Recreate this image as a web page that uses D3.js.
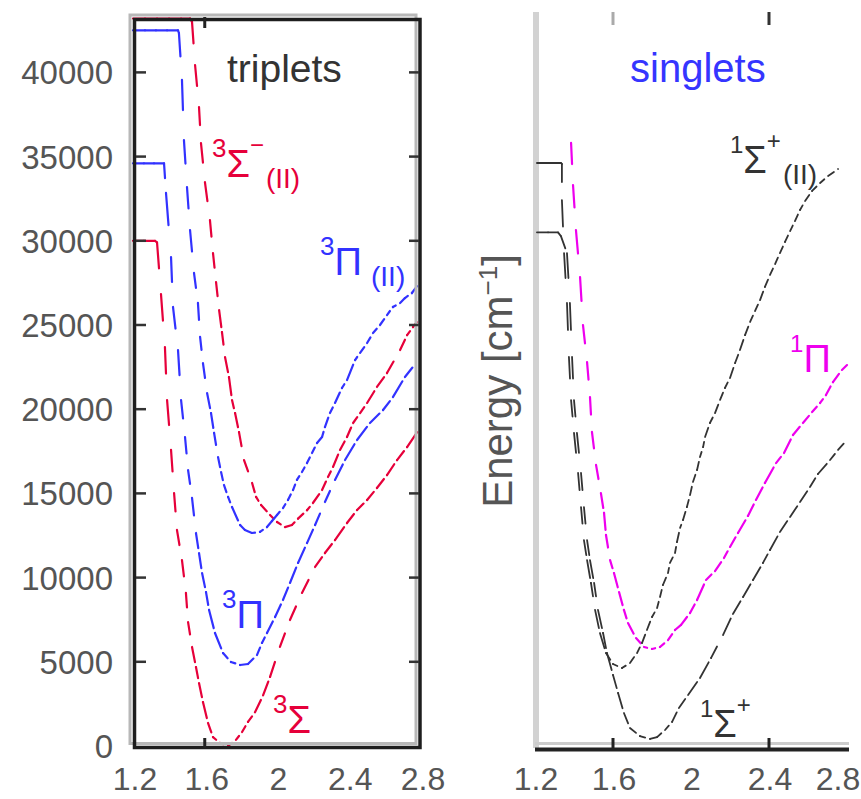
<!DOCTYPE html>
<html><head><meta charset="utf-8">
<script src="https://cdn.jsdelivr.net/npm/d3@7"></script>
<style>html,body{margin:0;padding:0;background:#fff;} svg{display:block;}</style>
</head><body>
<script>
// ---------------- data (r in Å, energy in cm^-1) ----------------
const energyTicks = [0, 5000, 10000, 15000, 20000, 25000, 30000, 35000, 40000];
const energyTickLabels = ["0", "5000", "10000", "15000", "20000", "25000", "30000", "35000", "40000"];
const distanceTicks = [1.2, 1.6, 2.0, 2.4, 2.8];
const distanceTickLabels = ["1.2", "1.6", "2", "2.4", "2.8"];
const leftTickMarks = [1.6];
const rightTickMarks = [1.6, 2.4];

const panelTitles = ["triplets", "singlets"];
const yAxisLabel = ["Energy [cm", "\u22121", "]"];

// triplets
const triplet3SigmaMinus = [[1.200,30000],[1.261,30000],[1.323,30000],[1.334,29900],[1.356,26830],[1.378,23690],[1.390,20540],[1.412,17580],[1.429,15020],[1.445,12830],[1.473,11040],[1.495,9090],[1.507,7360],[1.529,5880],[1.551,4690],[1.568,3740],[1.590,2610],[1.618,1370],[1.646,530],[1.685,180],[1.730,0],[1.774,360],[1.808,830],[1.841,1430],[1.880,2000],[1.925,3000],[1.964,4100],[2.019,5880],[2.075,7480],[2.142,9090],[2.215,10630],[2.270,11460],[2.326,12230],[2.393,13240],[2.449,14010],[2.505,14610],[2.560,15320],[2.616,16090],[2.672,16980],[2.728,17750],[2.800,18880]];
const triplet3SigmaMinusII = [[1.200,43200],[1.267,43200],[1.334,43200],[1.401,43200],[1.468,43200],[1.518,43200],[1.529,43000],[1.546,40440],[1.568,37940],[1.579,35800],[1.601,33490],[1.629,31230],[1.646,29270],[1.663,27550],[1.680,25890],[1.696,24580],[1.713,23100],[1.735,21910],[1.752,20540],[1.769,19770],[1.791,18640],[1.819,16980],[1.864,15620],[1.886,14790],[1.914,14310],[1.964,13720],[2.003,13300],[2.047,13000],[2.086,13120],[2.120,13500],[2.170,14000],[2.203,14430],[2.254,15200],[2.287,15970],[2.315,16570],[2.354,17580],[2.393,18350],[2.427,19180],[2.466,19770],[2.505,20370],[2.560,21320],[2.616,22150],[2.689,23510],[2.728,24400],[2.761,24880],[2.800,25410]];
const triplet3PiII = [[1.200,42500],[1.267,42500],[1.328,42500],[1.390,42500],[1.451,42500],[1.456,42340],[1.473,39550],[1.484,35980],[1.501,33190],[1.518,30640],[1.540,28090],[1.562,26310],[1.574,24290],[1.590,22740],[1.613,20960],[1.635,19770],[1.652,18590],[1.674,17160],[1.691,16270],[1.707,15500],[1.730,14790],[1.752,14190],[1.797,13120],[1.824,12830],[1.863,12650],[1.908,12710],[1.947,13000],[1.975,13360],[2.003,13720],[2.036,14130],[2.064,14610],[2.092,15200],[2.114,15800],[2.142,16270],[2.170,16800],[2.198,17400],[2.226,17990],[2.254,18350],[2.270,18940],[2.298,19770],[2.326,20370],[2.365,21260],[2.393,21730],[2.438,22920],[2.466,23340],[2.505,23930],[2.538,24520],[2.577,25000],[2.616,25590],[2.649,26070],[2.689,26300],[2.716,26600],[2.755,26900],[2.800,27550]];
const triplet3Pi = [[1.200,34600],[1.261,34600],[1.317,34600],[1.373,34600],[1.384,32840],[1.412,29030],[1.423,26070],[1.451,23510],[1.468,20540],[1.490,18350],[1.507,16390],[1.529,14730],[1.551,12650],[1.568,11460],[1.585,10270],[1.607,9140],[1.624,8080],[1.657,6710],[1.702,5520],[1.746,4990],[1.797,4810],[1.841,4870],[1.891,5400],[1.919,6120],[1.947,6710],[1.992,7660],[2.036,8670],[2.075,9680],[2.120,10870],[2.170,12050],[2.215,13120],[2.270,14490],[2.326,15800],[2.382,16980],[2.449,18170],[2.521,19180],[2.594,19950],[2.649,20720],[2.716,21910],[2.800,23040]];

// singlets
const singlet1SigmaPlusII = [[1.210,34620],[1.272,34620],[1.333,34620],[1.338,34560],[1.338,32420],[1.349,29270],[1.364,26310],[1.374,23100],[1.385,20540],[1.400,18590],[1.421,16210],[1.436,14190],[1.451,12230],[1.467,11040],[1.487,9680],[1.508,8080],[1.533,6710],[1.564,5520],[1.600,4870],[1.646,4630],[1.687,4930],[1.723,5520],[1.749,6120],[1.774,6890],[1.800,7660],[1.826,8190],[1.841,8850],[1.856,9560],[1.882,10270],[1.892,10870],[1.918,11460],[1.928,12110],[1.944,12950],[1.959,13420],[1.979,14190],[1.995,14900],[2.010,15680],[2.031,16390],[2.046,17160],[2.062,17750],[2.072,18350],[2.097,19180],[2.123,19770],[2.149,20550],[2.174,21260],[2.200,21850],[2.226,22740],[2.251,23510],[2.277,24400],[2.303,25180],[2.328,25830],[2.354,26480],[2.379,27260],[2.405,27970],[2.431,28620],[2.456,29270],[2.482,29930],[2.508,30580],[2.533,31170],[2.559,31830],[2.585,32360],[2.621,32960],[2.662,33430],[2.703,33850],[2.754,34260]];
const singlet1SigmaPlus = [[1.210,30500],[1.267,30500],[1.318,30500],[1.333,30280],[1.364,29270],[1.379,26310],[1.390,23100],[1.400,20540],[1.415,18590],[1.436,16210],[1.451,14190],[1.467,12230],[1.482,11040],[1.503,9680],[1.523,8080],[1.549,6710],[1.569,5520],[1.600,4220],[1.626,3150],[1.656,1960],[1.687,1070],[1.738,590],[1.790,420],[1.826,530],[1.867,950],[1.903,1430],[1.938,2260],[1.985,3030],[2.046,4040],[2.103,5230],[2.164,6590],[2.215,7840],[2.267,8850],[2.318,9860],[2.369,10870],[2.405,11640],[2.456,12710],[2.508,13600],[2.559,14490],[2.610,15380],[2.651,16150],[2.713,16980],[2.754,17580],[2.800,18170]];
const singlet1Pi = [[1.385,35810],[1.395,33310],[1.410,30640],[1.431,27850],[1.446,25000],[1.467,22800],[1.482,20720],[1.492,18650],[1.513,16690],[1.538,15020],[1.554,13840],[1.564,12530],[1.585,11040],[1.605,10270],[1.631,9140],[1.656,8080],[1.677,7300],[1.718,6410],[1.759,5880],[1.800,5760],[1.841,5880],[1.882,6290],[1.918,6890],[1.949,7190],[1.995,7900],[2.031,8670],[2.077,9860],[2.123,10390],[2.169,11160],[2.200,11820],[2.241,12650],[2.292,13660],[2.333,14610],[2.379,15620],[2.436,16800],[2.477,17400],[2.523,18470],[2.574,19180],[2.621,19830],[2.662,20370],[2.692,20840],[2.728,21610],[2.774,22330],[2.800,22620]];

// state labels: [superscript, main glyph, sign, suffix]
const labelTexts = {
  t3SigmaII: ["3", "\u03A3", "\u2212", "(II)"],
  t3PiII:    ["3", "\u03A0", "", "(II)"],
  t3Pi:      ["3", "\u03A0", "", ""],
  t3Sigma:   ["3", "\u03A3", "", ""],
  s1SigmaII: ["1", "\u03A3", "+", "(II)"],
  s1Pi:      ["1", "\u03A0", "", ""],
  s1Sigma:   ["1", "\u03A3", "+", ""]
};

// ---------------- layout ----------------
const W = 861, H = 799;
const FONT = "'Liberation Sans', Arial, sans-serif";
const C = { red: "#e6003a", blue: "#3232ff", magenta: "#ee00ee", black: "#333333", title2: "#3535ff" };

const svg = d3.select("body").append("svg").attr("width", W).attr("height", H)
  .style("background", "#fff");

const y = d3.scaleLinear().domain([0, 43200]).range([746, 18.5]);
const xL = d3.scaleLinear().domain([1.2, 2.8]).range([133, 420]);
const xR = d3.scaleLinear().domain([1.2, 2.8]).range([535, 847]);

// curve drawing: each data segment restarts the dash pattern (as in the original)
function drawCurve(data, x, color, width) {
  const g = svg.append("g");
  const line = d3.line().x(d => x(d[0])).y(d => y(d[1]));
  g.selectAll("path").data(d3.pairs(data)).join("path")
    .attr("d", p => line(p))
    .attr("fill", "none")
    .attr("stroke", color)
    .attr("stroke-width", width)
    .attr("stroke-linecap", "round")
    .attr("stroke-dasharray", p => {
      const dx = x(p[1][0]) - x(p[0][0]), dy = y(p[1][1]) - y(p[0][1]);
      const L = Math.hypot(dx, dy);
      if (Math.abs(dy) < 0.5 || L < 8) return null;
      if (L > 24) return `${(0.5 * L).toFixed(1)},${L.toFixed(1)}`;
      return `${(L - 5).toFixed(1)},5`;
    });
}

// ---------- left panel (triplets) ----------
drawCurve(triplet3SigmaMinusII, xL, C.red, 2.2);
drawCurve(triplet3SigmaMinus, xL, C.red, 2.2);
drawCurve(triplet3PiII, xL, C.blue, 2.2);
drawCurve(triplet3Pi, xL, C.blue, 2.2);

// frame with grey shadow
svg.append("rect").attr("x", 130).attr("y", 15).attr("width", 286).attr("height", 728.5)
  .attr("fill", "none").attr("stroke", "#b8b8b8").attr("stroke-width", 3);
svg.append("rect").attr("x", xL(1.2) + 1.5).attr("y", 19.5).attr("width", xL(2.8) - xL(1.2) - 1.5).attr("height", 728)
  .attr("fill", "none").attr("stroke", "#1e1e1e").attr("stroke-width", 3.5);

// y ticks (inner, both sides)
svg.append("g").selectAll("line").data(energyTicks.slice(1)).join("line")
  .attr("x1", 136).attr("x2", 146).attr("y1", d => y(d)).attr("y2", d => y(d))
  .attr("stroke", "#333").attr("stroke-width", 2.5);
svg.append("g").selectAll("line").data(energyTicks.slice(1)).join("line")
  .attr("x1", 409).attr("x2", 419).attr("y1", d => y(d)).attr("y2", d => y(d))
  .attr("stroke", "#333").attr("stroke-width", 2.5);
// x ticks
svg.append("g").selectAll("line").data(leftTickMarks).join("line")
  .attr("x1", d => xL(d)).attr("x2", d => xL(d)).attr("y1", 738).attr("y2", 748)
  .attr("stroke", "#222").attr("stroke-width", 3);
svg.append("g").selectAll("line").data(leftTickMarks).join("line")
  .attr("x1", d => xL(d)).attr("x2", d => xL(d)).attr("y1", 17).attr("y2", 28)
  .attr("stroke", "#222").attr("stroke-width", 3);

// y tick labels
svg.append("g").selectAll("text").data(energyTicks).join("text")
  .attr("x", 113).attr("y", d => y(d) + 12)
  .attr("text-anchor", "end").attr("font-family", FONT).attr("font-size", 33)
  .attr("fill", "#555").text((d, i) => energyTickLabels[i]);

// x tick labels
function xLabels(x, dx, lastDx) {
  svg.append("g").selectAll("text").data(distanceTicks).join("text")
    .attr("x", (d, i) => x(d) + (i === distanceTicks.length - 1 ? lastDx : dx)).attr("y", 790)
    .attr("text-anchor", "middle").attr("font-family", FONT).attr("font-size", 32)
    .attr("fill", "#555").text((d, i) => distanceTickLabels[i]);
}
xLabels(xL, 2, 3);
xLabels(xR, 1, -9);

// ---------- right panel (singlets) ----------
svg.append("line").attr("x1", 536).attr("x2", 536).attr("y1", 12).attr("y2", 748)
  .attr("stroke", "#d2d2d2").attr("stroke-width", 6);
drawCurve(singlet1Pi, xR, C.magenta, 2.2);
drawCurve(singlet1SigmaPlusII, xR, C.black, 1.8);
drawCurve(singlet1SigmaPlus, xR, C.black, 1.8);
svg.append("line").attr("x1", 535).attr("x2", 849).attr("y1", 743.5).attr("y2", 743.5)
  .attr("stroke", "#cccccc").attr("stroke-width", 3);
svg.append("line").attr("x1", 535).attr("x2", 849).attr("y1", 749.5).attr("y2", 749.5)
  .attr("stroke", "#222").attr("stroke-width", 4);
svg.append("g").selectAll("line").data(rightTickMarks).join("line")
  .attr("x1", d => xR(d)).attr("x2", d => xR(d)).attr("y1", 738).attr("y2", 749)
  .attr("stroke", "#222").attr("stroke-width", 3);
svg.append("g").selectAll("line").data(rightTickMarks).join("line")
  .attr("x1", d => xR(d)).attr("x2", d => xR(d)).attr("y1", 12).attr("y2", 25)
  .attr("stroke", (d, i) => i === 0 ? "#aaa" : "#333").attr("stroke-width", 3);

// y axis label (rotated)
const yl = svg.append("text").attr("transform", "translate(512,381) rotate(-90)")
  .attr("text-anchor", "middle").attr("font-family", FONT).attr("font-size", 42).attr("fill", "#555");
yl.append("tspan").text(yAxisLabel[0]);
yl.append("tspan").attr("dy", -15).attr("font-size", 26).text(yAxisLabel[1]);
yl.append("tspan").attr("dy", 15).text(yAxisLabel[2]);

// titles
svg.append("text").attr("x", 227).attr("y", 82).attr("font-family", FONT).attr("font-size", 39)
  .attr("fill", "#333").text(panelTitles[0]);
svg.append("text").attr("x", 630).attr("y", 82).attr("font-family", FONT).attr("font-size", 40)
  .attr("fill", C.title2).text(panelTitles[1]);

// state labels, anchored in data coordinates
function stateLabel(x, r, E, parts, color, supSize, suffixDx) {
  const px = x(r), py = y(E);
  const t = svg.append("text").attr("x", px).attr("y", py)
    .attr("font-family", FONT).attr("fill", color);
  t.append("tspan").attr("y", py - 20).attr("font-size", supSize).text(parts[0]);
  t.append("tspan").attr("y", py).attr("font-size", 38).text(parts[1]);
  if (parts[2]) t.append("tspan").attr("y", py - 24).attr("font-size", 24).text(parts[2]);
  if (parts[3]) t.append("tspan").attr("y", py + 11).attr("dx", suffixDx).attr("font-size", 28).text(parts[3]);
}
stateLabel(xL, 1.640, 33790, labelTexts.t3SigmaII, C.red, 26, 2);
stateLabel(xL, 2.243, 27970, labelTexts.t3PiII, C.blue, 26, 9);
stateLabel(xL, 1.696, 7010, labelTexts.t3Pi, C.blue, 26, 0);
stateLabel(xL, 1.981, 770, labelTexts.t3Sigma, C.red, 26, 0);
stateLabel(xR, 2.200, 34030, labelTexts.s1SigmaII, "#333", 24, 2);
stateLabel(xR, 2.508, 22210, labelTexts.s1Pi, C.magenta, 24, 0);
stateLabel(xR, 2.046, 530, labelTexts.s1Sigma, "#333", 24, 0);
</script>
</body></html>
